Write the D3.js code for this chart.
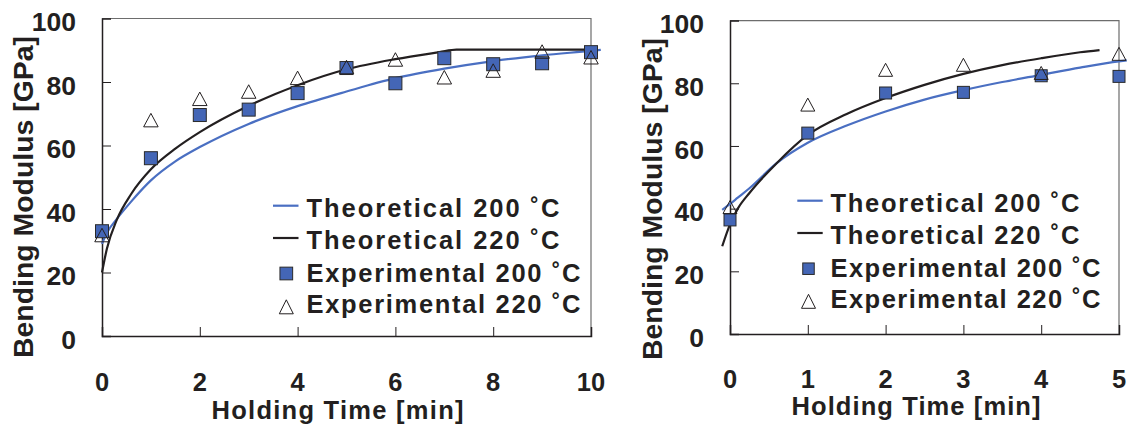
<!DOCTYPE html>
<html>
<head>
<meta charset="utf-8">
<script src="https://cdn.jsdelivr.net/npm/d3@7"></script>
<style>
  html, body { margin: 0; padding: 0; background: #fff; }
  svg { display: block; }
  text { font-family: "Liberation Sans", Arial, Helvetica, sans-serif; font-weight: bold; fill: #231f20; }
</style>
</head>
<body>
<svg id="chart" width="1130" height="427"></svg>
<script>
// Bending modulus against holding time, two moulding runs side by side.

// Shared tick values
const yTicks = [0, 20, 40, 60, 80, 100];
const xTicksLeft = [0, 2, 4, 6, 8, 10];
const xTicksRight = [0, 1, 2, 3, 4, 5];

// Left panel: measurements (min, GPa)
const expTimeLeft = [0, 1, 2, 3, 4, 5, 6, 7, 8, 9, 10];
const exp200Left = [33, 56, 69.6, 71.3, 76.5, 84.4, 79.6, 87.5, 85.6, 85.9, 89.4];
const exp220Left = [31.8, 68, 74.7, 77, 81.3, 84.7, 87.1, 81.5, 83.6, 89.6, 87.8];

// Left panel: model curves
const theoTime200Left = [0, 0.1, 0.3, 0.6, 1, 1.5, 2, 3, 4, 5, 6, 7, 8, 9, 10, 10.2];
const theo200Left = [29, 32.5, 36.8, 42.4, 49, 55, 59.5, 66.8, 72.4, 77, 81.2, 84.2, 86.6, 88.4, 89.8, 90.1];
const theoTime220Left = [0, 0.1, 0.3, 0.6, 1, 1.5, 2, 3, 4, 5, 6, 6.9, 7.25, 8, 9, 10];
const theo220Left = [20, 27.5, 36.5, 44.8, 52.5, 59, 64.2, 72.5, 79, 84, 87.2, 89.4, 90.2, 90.2, 90.2, 90.2];

// Right panel: measurements
const expTimeRight = [0, 1, 2, 3, 4, 5];
const exp200Right = [36.4, 64.1, 76.9, 77.1, 82.4, 82.2];
const exp220Right = [40.5, 73.2, 84.3, 85.9, 83.3, 89.4];

// Right panel: model curves
const theoTime200Right = [-0.1, 0, 0.1, 0.25, 0.6, 1, 1.5, 2, 2.5, 3, 3.5, 4, 4.5, 5, 5.1];
const theo200Right = [39.6, 41.5, 43.5, 46.5, 54.5, 61, 66.5, 71, 74.8, 77.8, 80.4, 82.7, 85, 87, 87.3];
const theoTime220Right = [-0.1, 0, 0.1, 0.25, 0.6, 1, 1.5, 2, 2.5, 3, 3.5, 4, 4.5, 4.75];
const theo220Right = [28, 35, 40, 45, 54.5, 63.5, 70.2, 75.3, 79.5, 83, 85.8, 88, 89.9, 90.6];

// Legend entries
const legendLabels = ["Theoretical 200 \u02DAC", "Theoretical 220 \u02DAC", "Experimental 200 \u02DAC", "Experimental 220 \u02DAC"];

const BLUE_LINE = "#4a6fc2";
const BLUE_FILL = "#4466b6";
const INK = "#231f20";

const svg = d3.select("#chart");

function trianglePath(w, h) {
  return `M0,${-h / 2}L${w / 2},${h / 2}L${-w / 2},${h / 2}Z`;
}

function drawPanel(p) {
  const g = svg.append("g");
  const x = d3.scaleLinear().domain(p.xDomain).range([p.left, p.right]);
  const y = d3.scaleLinear().domain([0, 100]).range([p.bottom, p.top]);

  // frame (top / right)
  g.append("path")
    .attr("d", `M${p.left},${p.top}H${p.right}V${p.bottom}`)
    .attr("fill", "none").attr("stroke", "#6d6d6d").attr("stroke-width", 1.2);

  // y axis with inward ticks
  const yAxis = d3.axisRight(y).tickValues(yTicks).tickSize(9).tickFormat("");
  const ya = g.append("g").attr("transform", `translate(${p.left},0)`).call(yAxis);
  ya.select(".domain").attr("stroke", INK).attr("stroke-width", 1.5);
  ya.selectAll(".tick line").attr("stroke", INK).attr("stroke-width", 1);
  ya.selectAll(".tick").filter(d => d === 0 || d === 100).select("line").remove();

  // x axis with inward ticks
  const xAxis = d3.axisTop(x).tickValues(p.xTicks).tickSize(9).tickFormat("");
  const xa = g.append("g").attr("transform", `translate(0,${p.bottom})`).call(xAxis);
  xa.select(".domain").attr("stroke", INK).attr("stroke-width", 1.5);
  xa.selectAll(".tick line").attr("stroke", INK).attr("stroke-width", 1);
  xa.selectAll(".tick").filter(d => d === p.xDomain[0] || d === p.xDomain[1]).select("line").remove();

  // tick labels
  g.selectAll(".ylab").data(yTicks).enter().append("text")
    .attr("x", p.left - 26).attr("y", d => y(d) + 12.7)
    .attr("text-anchor", "end").style("font-size", "26.5px")
    .text(d => d);
  g.selectAll(".xlab").data(p.xTicks).enter().append("text")
    .attr("x", d => x(d)).attr("y", p.xLabelY)
    .attr("text-anchor", "middle").style("font-size", "25.5px")
    .text(d => d);

  // axis titles
  g.append("text")
    .attr("transform", `translate(${p.yTitleX},${p.yTitleY}) rotate(-90)`)
    .attr("text-anchor", "middle").style("font-size", "27.5px")
    .attr("textLength", 322).attr("lengthAdjust", "spacingAndGlyphs")
    .text("Bending Modulus [GPa]");
  g.append("text")
    .attr("x", p.xTitleX).attr("y", p.xTitleY)
    .attr("text-anchor", "middle").style("font-size", "25.5px")
    .attr("textLength", p.xTitleLen).attr("lengthAdjust", "spacing")
    .text("Holding Time [min]");

  // model curves
  const line = d3.line().x(d => x(d[0])).y(d => y(d[1])).curve(d3.curveMonotoneX);
  g.append("path").datum(d3.zip(p.t200, p.v200))
    .attr("d", line).attr("fill", "none").attr("stroke", BLUE_LINE).attr("stroke-width", 2.2);
  g.append("path").datum(d3.zip(p.t220, p.v220))
    .attr("d", line).attr("fill", "none").attr("stroke", INK).attr("stroke-width", 2.2);

  // measured points
  const s = p.sq;
  g.selectAll(".sq").data(d3.zip(p.expT, p.exp200)).enter().append("rect")
    .attr("x", d => x(d[0]) - s / 2).attr("y", d => y(d[1]) - s / 2)
    .attr("width", s).attr("height", s)
    .attr("fill", BLUE_FILL).attr("stroke", "#2a2a2a").attr("stroke-width", 1);
  g.selectAll(".tri").data(d3.zip(p.expT, p.exp220)).enter().append("path")
    .attr("transform", d => `translate(${x(d[0])},${y(d[1])})`)
    .attr("d", trianglePath(p.triW, p.triH))
    .attr("fill", "none").attr("stroke", INK).attr("stroke-width", 1);

  // legend
  const L = p.legend;
  L.rows.forEach((base, i) => {
    g.append("text")
      .attr("x", L.textX).attr("y", base)
      .style("font-size", "25.5px")
      .attr("textLength", i < 2 ? L.theoLen : L.expLen).attr("lengthAdjust", "spacing")
      .text(legendLabels[i]);
  });
  g.append("line").attr("x1", L.lineX1).attr("x2", L.lineX2)
    .attr("y1", L.rows[0] - 11).attr("y2", L.rows[0] - 11)
    .attr("stroke", BLUE_LINE).attr("stroke-width", 2.2);
  g.append("line").attr("x1", L.lineX1).attr("x2", L.lineX2)
    .attr("y1", L.rows[1] - 10.5).attr("y2", L.rows[1] - 10.5)
    .attr("stroke", INK).attr("stroke-width", 2.2);
  g.append("rect")
    .attr("x", L.markX - L.sq / 2).attr("y", L.rows[2] - 8 - L.sq / 2)
    .attr("width", L.sq).attr("height", L.sq)
    .attr("fill", BLUE_FILL).attr("stroke", "#2a2a2a").attr("stroke-width", 1);
  g.append("path")
    .attr("transform", `translate(${L.markX},${L.rows[3] - 6.5})`)
    .attr("d", trianglePath(14, 14))
    .attr("fill", "none").attr("stroke", INK).attr("stroke-width", 1);
}

drawPanel({
  xDomain: [0, 10], xTicks: xTicksLeft,
  left: 102, right: 591, top: 18.5, bottom: 336,
  xLabelY: 390.5, yTitleX: 33.3, yTitleY: 197,
  xTitleX: 337.5, xTitleY: 418.5, xTitleLen: 252,
  t200: theoTime200Left, v200: theo200Left,
  t220: theoTime220Left, v220: theo220Left,
  expT: expTimeLeft, exp200: exp200Left, exp220: exp220Left,
  sq: 13, triW: 14.5, triH: 13.5,
  legend: { rows: [216.7, 248.5, 281.5, 313.3], textX: 306.5, theoLen: 253, expLen: 274,
            lineX1: 273, lineX2: 298.5, markX: 286.3, sq: 12.7 }
});

drawPanel({
  xDomain: [0, 5], xTicks: xTicksRight,
  left: 730, right: 1119, top: 20.6, bottom: 334,
  xLabelY: 387.5, yTitleX: 661.7, yTitleY: 199,
  xTitleX: 916, xTitleY: 415, xTitleLen: 249,
  t200: theoTime200Right, v200: theo200Right,
  t220: theoTime220Right, v220: theo220Right,
  expT: expTimeRight, exp200: exp200Right, exp220: exp220Right,
  sq: 12, triW: 14, triH: 13,
  legend: { rows: [211.7, 243.5, 276.7, 307.8], textX: 830.5, theoLen: 249, expLen: 270,
            lineX1: 797.3, lineX2: 822.7, markX: 808.5, sq: 11.5 }
});
</script>
</body>
</html>
